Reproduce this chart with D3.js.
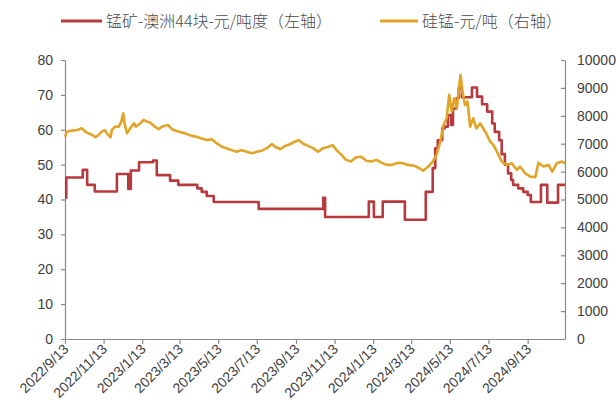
<!DOCTYPE html>
<html><head><meta charset="utf-8">
<script src="https://cdn.jsdelivr.net/npm/d3@7"></script>
<style>
body{margin:0;background:#fff}
svg{display:block}
</style>
</head><body>
<svg id="c" width="616" height="405"></svg>
<script>
const legendLabels = ["锰矿-澳洲44块-元/吨度（左轴）", "硅锰-元/吨（右轴）"];
const tickDates = ["2022-09-13","2022-11-13","2023-01-13","2023-03-13","2023-05-13","2023-07-13","2023-09-13","2023-11-13","2024-01-13","2024-03-13","2024-05-13","2024-07-13","2024-09-13"];
const tickLabels = ["2022/9/13","2022/11/13","2023/1/13","2023/3/13","2023/5/13","2023/7/13","2023/9/13","2023/11/13","2024/1/13","2024/3/13","2024/5/13","2024/7/13","2024/9/13"];
const leftTicks = [0,10,20,30,40,50,60,70,80];
const rightTicks = [0,1000,2000,3000,4000,5000,6000,7000,8000,9000,10000];
const dateDomain = ["2022-09-13","2024-11-11"];

// 锰矿-澳洲44块 (left axis), step changes
const oreDates = ["2022-09-13","2022-09-15","2022-10-11","2022-10-18","2022-10-30","2022-12-04","2022-12-22","2022-12-26","2023-01-08","2023-01-30","2023-02-05","2023-02-26","2023-03-11","2023-04-10","2023-04-17","2023-04-25","2023-05-06","2023-07-16","2023-10-26","2023-10-29","2024-01-06","2024-01-14","2024-01-28","2024-03-03","2024-04-05","2024-04-16","2024-04-20","2024-04-24","2024-05-01","2024-05-05","2024-05-10","2024-05-15","2024-05-18","2024-05-24","2024-05-27","2024-06-01","2024-06-17","2024-06-25","2024-07-03","2024-07-11","2024-07-19","2024-07-23","2024-07-30","2024-08-03","2024-08-08","2024-08-13","2024-08-18","2024-08-21","2024-08-29","2024-09-06","2024-09-13","2024-09-18","2024-10-04","2024-10-14","2024-10-31","2024-11-11"];
const oreValues = [40.5,46.3,48.5,44.2,42.3,47.3,43,48.3,50.7,51.2,47,45.4,44.2,43.2,42.2,41,39.3,37.3,40.5,35,39.4,35,39.4,34.2,42.2,49,54.7,57,60.4,60.9,64.2,61.4,66.1,69,71.9,69.3,72.1,69.5,67.3,65.2,61.8,59.4,57,53,50,47.5,45.6,44.2,43.2,42.2,41.3,39.3,44.2,39.1,44.2,44.2];

// 硅锰 (right axis)
const simnDates = ["2022-09-13","2022-09-16","2022-09-24","2022-10-02","2022-10-10","2022-10-15","2022-10-20","2022-10-26","2022-10-31","2022-11-05","2022-11-10","2022-11-15","2022-11-18","2022-11-24","2022-11-26","2022-12-01","2022-12-07","2022-12-11","2022-12-14","2022-12-16","2022-12-20","2022-12-25","2022-12-31","2023-01-03","2023-01-10","2023-01-15","2023-01-21","2023-01-26","2023-02-02","2023-02-08","2023-02-13","2023-02-23","2023-03-01","2023-03-12","2023-03-22","2023-04-01","2023-04-09","2023-04-17","2023-04-25","2023-05-03","2023-05-11","2023-05-19","2023-05-26","2023-06-03","2023-06-11","2023-06-19","2023-06-27","2023-07-05","2023-07-13","2023-07-21","2023-07-29","2023-08-06","2023-08-11","2023-08-19","2023-08-27","2023-09-04","2023-09-11","2023-09-17","2023-09-25","2023-10-02","2023-10-10","2023-10-18","2023-10-26","2023-11-03","2023-11-10","2023-11-16","2023-11-24","2023-12-01","2023-12-09","2023-12-17","2023-12-25","2024-01-02","2024-01-10","2024-01-18","2024-01-26","2024-02-03","2024-02-11","2024-02-21","2024-02-29","2024-03-08","2024-03-19","2024-03-26","2024-04-01","2024-04-09","2024-04-16","2024-04-22","2024-04-28","2024-05-03","2024-05-08","2024-05-12","2024-05-16","2024-05-20","2024-05-24","2024-05-28","2024-05-30","2024-06-02","2024-06-06","2024-06-10","2024-06-14","2024-06-19","2024-06-24","2024-06-30","2024-07-08","2024-07-16","2024-07-21","2024-07-29","2024-08-03","2024-08-11","2024-08-19","2024-08-27","2024-09-01","2024-09-09","2024-09-17","2024-09-25","2024-09-30","2024-10-08","2024-10-16","2024-10-22","2024-10-29","2024-11-06","2024-11-11"];
const simnValues = [7250,7430,7470,7490,7550,7430,7370,7310,7230,7310,7430,7490,7370,7230,7490,7610,7610,7790,8090,7730,7370,7550,7730,7610,7730,7850,7790,7750,7610,7520,7610,7670,7520,7430,7370,7280,7250,7190,7130,7160,7010,6890,6840,6770,6710,6770,6710,6660,6710,6750,6840,6990,6890,6800,6920,6990,7070,7130,6990,6920,6840,6710,6840,6890,6950,6770,6600,6420,6360,6510,6530,6390,6360,6420,6320,6240,6240,6320,6300,6240,6200,6120,6030,6180,6360,6600,7070,7670,7910,8750,8150,8630,8270,9100,9460,8870,8390,8510,7610,7910,7550,7730,7430,7070,6950,6600,6360,6240,6300,6060,6180,5940,5820,5800,6320,6180,6240,6000,6300,6360,6300];

const parse = d3.timeParse("%Y-%m-%d");
const svg = d3.select("#c");
const L = 65, R = 565, T = 60, B = 339;
const red = "#B73A3F", gold = "#E2A426";
const axisColor = "#8a8a8a", textColor = "#404040";
const numFont = "'Liberation Sans', Arial, sans-serif";

const x = d3.scaleTime().domain(dateDomain.map(parse)).range([L, R]);
const yL = d3.scaleLinear().domain([0, 80]).range([B, T]);
const yR = d3.scaleLinear().domain([0, 10000]).range([B, T]);

function styleAxis(g) {
  g.select(".domain").attr("stroke", axisColor).attr("stroke-width", 1.2);
  g.selectAll(".tick line").attr("stroke", axisColor).attr("stroke-width", 1.2);
  g.selectAll(".tick text").attr("fill", textColor).style("font-family", numFont).style("font-size", "14px");
}

const gL = svg.append("g").attr("transform", `translate(${L},0)`)
  .call(d3.axisLeft(yL).tickValues(leftTicks).tickSize(4).tickSizeOuter(0).tickPadding(8).tickFormat(d3.format("d")));
styleAxis(gL);

const gR = svg.append("g").attr("transform", `translate(${R},0)`)
  .call(d3.axisRight(yR).tickValues(rightTicks).tickSize(-4).tickSizeOuter(0).tickPadding(12).tickFormat(d3.format("d")));
styleAxis(gR);

const gX = svg.append("g").attr("transform", `translate(0,${B})`)
  .call(d3.axisBottom(x).tickValues(tickDates.map(parse)).tickSize(5).tickSizeOuter(0)
    .tickFormat((d, i) => tickLabels[i]));
styleAxis(gX);
gX.selectAll(".tick text")
  .attr("x", 0).attr("y", 0).attr("dy", 0)
  .attr("text-anchor", "end")
  .attr("transform", "translate(4,11) rotate(-45)");

const ore = oreDates.map((d, i) => ({ d: parse(d), v: oreValues[i] }));
const simn = simnDates.map((d, i) => ({ d: parse(d), v: simnValues[i] }));

svg.append("path").datum(ore)
  .attr("fill", "none").attr("stroke", red).attr("stroke-width", 2.6)
  .attr("stroke-linejoin", "round")
  .attr("d", d3.line().x(p => x(p.d)).y(p => yL(p.v)).curve(d3.curveStepAfter));

svg.append("path").datum(simn)
  .attr("fill", "none").attr("stroke", gold).attr("stroke-width", 2.6)
  .attr("stroke-linejoin", "round")
  .attr("d", d3.line().x(p => x(p.d)).y(p => yR(p.v)));

// legend
const legend = [
  { label: legendLabels[0], color: red, x1: 61, x2: 102, tx: 106 },
  { label: legendLabels[1], color: gold, x1: 380, x2: 418, tx: 422 }
];
const lg = svg.append("g");
legend.forEach(it => {
  lg.append("line").attr("x1", it.x1).attr("x2", it.x2).attr("y1", 21).attr("y2", 21)
    .attr("stroke", it.color).attr("stroke-width", 3);
  lg.append("text").attr("x", it.tx).attr("y", 21).attr("dy", "0.36em")
    .attr("fill", "#4a4a4a")
    .style("font-family", "'Noto Sans CJK SC', sans-serif")
    .style("font-size", "16px")
    .style("font-weight", "300")
    .text(it.label);
});
</script>
</body></html>
